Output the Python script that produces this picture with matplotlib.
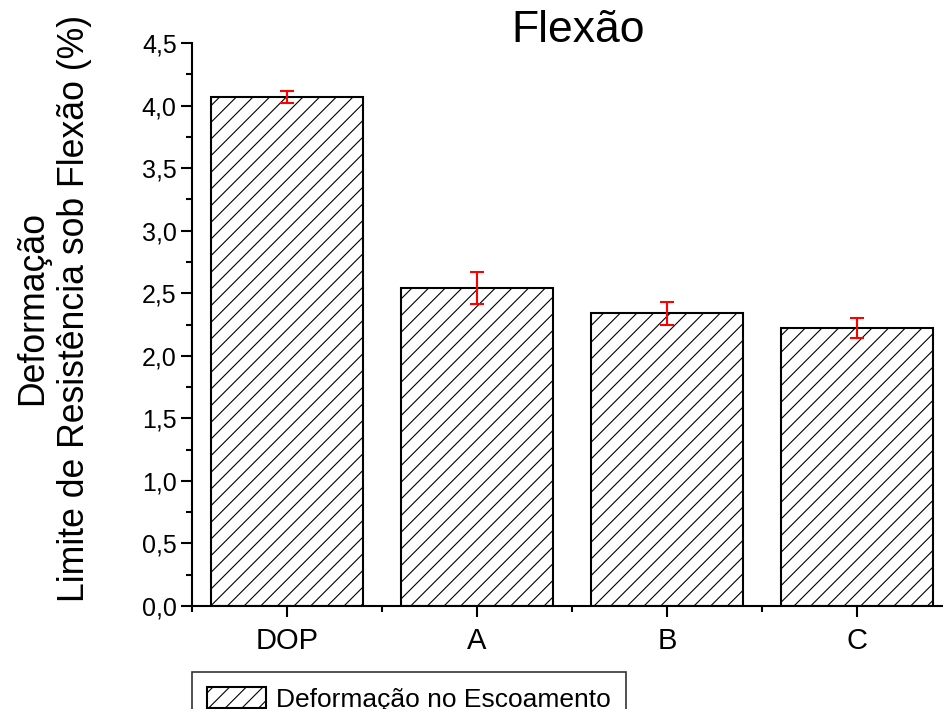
import matplotlib
matplotlib.use("Agg")
import matplotlib.pyplot as plt
from matplotlib.ticker import MultipleLocator, FixedLocator, FuncFormatter

plt.rcParams['font.family'] = ['Liberation Sans', 'DejaVu Sans']
plt.rcParams['hatch.linewidth'] = 0.8

categories = ["DOP", "A", "B", "C"]
values = [4.07, 2.54, 2.34, 2.22]
errors = [0.05, 0.13, 0.09, 0.08]
series_label = "Deformação no Escoamento"
title = "Flexão"
ylabel = "Deformação\nLimite de Resistência sob Flexão (%)"

W, H = 943, 709
fig = plt.figure(figsize=(W / 100, H / 100), dpi=100)
ax = fig.add_axes([192 / W, 1 - 606 / H, (952 - 192) / W, (606 - 43) / H])

x = list(range(len(categories)))
bars = ax.bar(x, values, width=0.8, color="white", edgecolor="black",
              linewidth=1.5, hatch="//", label=series_label, zorder=2)
ax.errorbar(x, values, yerr=errors, fmt="none", ecolor="red",
            elinewidth=1.5, capsize=4.7, capthick=1.5, zorder=3)

ax.set_xlim(-0.5, 3.5)
ax.set_ylim(0, 4.5)
ax.set_xticks(x)
ax.set_xticklabels(categories)
ax.xaxis.set_minor_locator(FixedLocator([-0.5, 0.5, 1.5, 2.5, 3.5]))
ax.yaxis.set_major_locator(MultipleLocator(0.5))
ax.yaxis.set_minor_locator(MultipleLocator(0.25))
ax.yaxis.set_major_formatter(FuncFormatter(lambda v, p: f"{v:.1f}".replace(".", ",")))

for s in ("top", "right"):
    ax.spines[s].set_visible(False)
for s in ("left", "bottom"):
    ax.spines[s].set_linewidth(1.5)

ax.tick_params(axis="both", which="major", direction="out", length=8, width=1.5)
ax.tick_params(axis="both", which="minor", direction="out", length=4, width=1.5)
ax.tick_params(axis="y", which="major", labelsize=18, pad=3)
ax.tick_params(axis="x", which="major", labelsize=21, pad=7)

fig.text(578 / W, 1 - 31 / H, title, fontsize=32, ha="center", va="center")
fig.text(54 / W, 1 - 308 / H, ylabel, fontsize=25.7, rotation=90,
         ha="center", va="center", multialignment="center", linespacing=1.25)

leg = fig.legend(handles=[bars], labels=[series_label], loc="upper left",
                 bbox_to_anchor=(192 / W, 1 - 672 / H), fontsize=19,
                 frameon=True, fancybox=False, edgecolor="black",
                 handlelength=2.25, handleheight=0.9, handletextpad=0.4,
                 borderpad=0.55, borderaxespad=0)
leg.get_frame().set_linewidth(1.2)

fig.savefig("out.png", dpi=100)
